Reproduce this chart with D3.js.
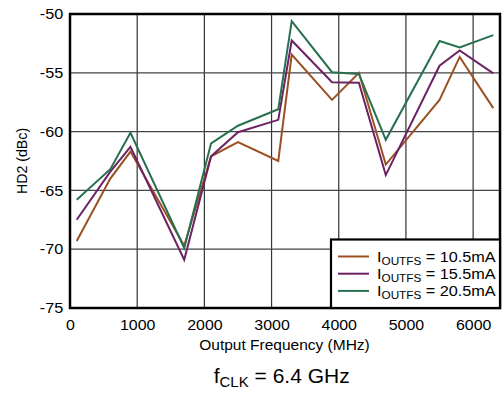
<!DOCTYPE html>
<html><head><meta charset="utf-8">
<script src="https://cdn.jsdelivr.net/npm/d3@7"></script>
<style>body{margin:0;background:#fff}svg{display:block}text{font-family:"Liberation Sans",Arial,sans-serif;fill:#000}</style>
</head><body>
<script>
const freqs = [100, 600, 900, 1700, 2100, 2500, 3100, 3300, 3900, 4300, 4700, 5500, 5800, 6300];
const hd2_10_5 = [-69.3, -64.0, -61.7, -69.7, -62.1, -60.9, -62.5, -53.45, -57.3, -55.0, -62.8, -57.3, -53.65, -58.0];
const hd2_15_5 = [-67.5, -63.4, -61.3, -70.9, -62.1, -60.05, -59.0, -52.25, -55.8, -55.85, -63.7, -54.4, -53.1, -55.05];
const hd2_20_5 = [-65.8, -63.2, -60.1, -69.9, -61.0, -59.5, -58.1, -50.6, -54.95, -55.1, -60.7, -52.3, -52.85, -51.8];
const seriesNames = ["10.5mA", "15.5mA", "20.5mA"];
const seriesColors = ["#9a5020", "#6c2263", "#28704f"];
const xTicks = [0, 1000, 2000, 3000, 4000, 5000, 6000];
const yTicks = [-75, -70, -65, -60, -55, -50];

const W = 503, H = 394;
const m = {l: 70, t: 14, r: 3, b: 86};
const svg = d3.select("body").append("svg").attr("width", W).attr("height", H);
const x = d3.scaleLinear().domain([0, 6400]).range([m.l, W - m.r]);
const y = d3.scaleLinear().domain([-75, -50]).range([H - m.b, m.t]);

// grid
svg.append("g").selectAll("line").data(xTicks.filter(d => d > 0)).join("line")
  .attr("x1", d => x(d)).attr("x2", d => x(d)).attr("y1", y(-75)).attr("y2", y(-50))
  .attr("stroke", "#333").attr("stroke-width", 1.2);
svg.append("g").selectAll("line").data(yTicks.filter(d => d > -75 && d < -50)).join("line")
  .attr("y1", d => y(d)).attr("y2", d => y(d)).attr("x1", x(0)).attr("x2", x(6400))
  .attr("stroke", "#444").attr("stroke-width", 1.2);

// axes labels
const xa = svg.append("g").attr("transform", `translate(0,${y(-75)})`)
  .call(d3.axisBottom(x).tickValues(xTicks).tickSize(0).tickPadding(12).tickFormat(d3.format("d")));
xa.select(".domain").remove();
xa.selectAll("text").attr("font-size", 14.5).attr("font-family", "Liberation Sans, Arial, sans-serif")
  .attr("fill", "#000").attr("transform", "scale(1.1,1)");
const ya = svg.append("g").attr("transform", `translate(${x(0)},0)`)
  .call(d3.axisLeft(y).tickValues(yTicks).tickSize(0).tickPadding(6).tickFormat(d => d));
ya.select(".domain").remove();
ya.selectAll("text").attr("font-size", 14.5).attr("font-family", "Liberation Sans, Arial, sans-serif")
  .attr("fill", "#000").attr("transform", "scale(1.12,1)");

// lines
const allSeries = [hd2_10_5, hd2_15_5, hd2_20_5];
const line = d3.line().x((d, i) => x(freqs[i])).y(d => y(d));
allSeries.forEach((s, k) => {
  svg.append("path").datum(s).attr("d", line).attr("fill", "none")
    .attr("stroke", seriesColors[k]).attr("stroke-width", 2).attr("stroke-linejoin", "miter");
});

// frame
svg.append("rect").attr("x", x(0)).attr("y", y(-50)).attr("width", x(6400) - x(0)).attr("height", y(-75) - y(-50))
  .attr("fill", "none").attr("stroke", "#000").attr("stroke-width", 2.5);

// legend
const lg = svg.append("g");
const lx = 331, ly = 239.5;
lg.append("rect").attr("x", lx).attr("y", ly).attr("width", x(6400) - lx).attr("height", y(-75) - ly)
  .attr("fill", "#fff").attr("stroke", "#000").attr("stroke-width", 2.2);
seriesNames.forEach((n, k) => {
  const cy = 256.5 + k * 17.2;
  lg.append("line").attr("x1", 338).attr("x2", 369).attr("y1", cy).attr("y2", cy)
    .attr("stroke", seriesColors[k]).attr("stroke-width", 2);
  const t = lg.append("text").attr("transform", `translate(377,${cy + 5}) scale(1.12,1)`).attr("font-size", 14.5);
  t.append("tspan").text("I");
  t.append("tspan").attr("font-size", 10.5).attr("dy", 3).text("OUTFS");
  t.append("tspan").attr("dy", -3).text(" = " + n);
});

// titles
svg.append("text").attr("transform", `translate(27,${(y(-50) + y(-75)) / 2}) rotate(-90)`)
  .attr("text-anchor", "middle").attr("font-size", 14.2).text("HD2 (dBc)");
svg.append("text").attr("x", 284.5).attr("y", 350).attr("text-anchor", "middle")
  .attr("font-size", 15.5).text("Output Frequency (MHz)");
const ft = svg.append("text").attr("x", 281.7).attr("y", 383).attr("text-anchor", "middle").attr("font-size", 21);
ft.append("tspan").text("f");
ft.append("tspan").attr("font-size", 15).attr("dy", 4).text("CLK");
ft.append("tspan").attr("dy", -4).text(" = 6.4 GHz");
</script>
</body></html>
